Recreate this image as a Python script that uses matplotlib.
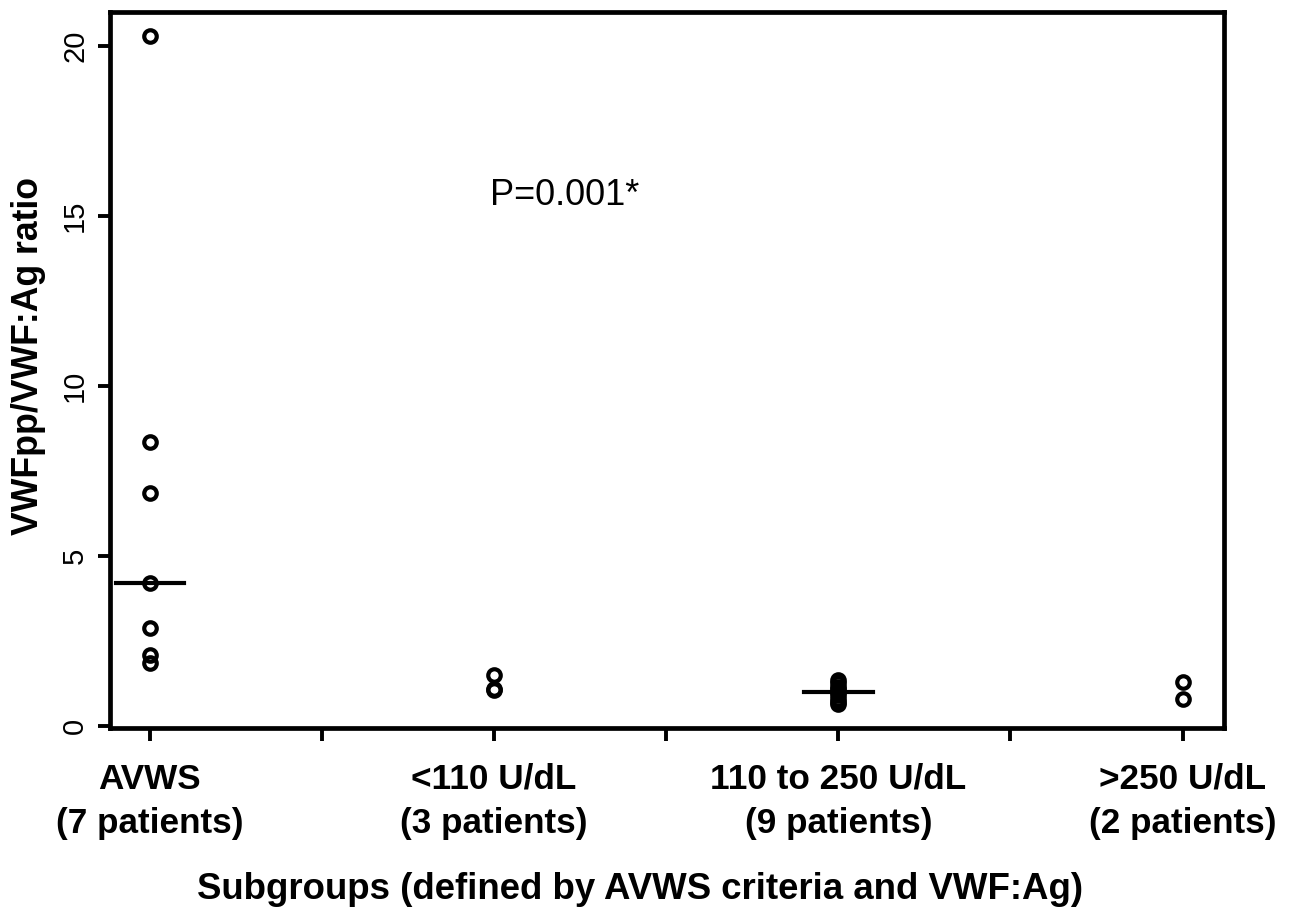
import numpy as np
import matplotlib.pyplot as plt
from matplotlib.transforms import ScaledTranslation

plt.rcParams['font.family'] = ['Liberation Sans', 'DejaVu Sans']

# values
groups = ['AVWS\n(7 patients)', '<110 U/dL\n(3 patients)',
          '110 to 250 U/dL\n(9 patients)', '>250 U/dL\n(2 patients)']
avws = [20.3, 8.35, 6.85, 4.2, 2.88, 2.09, 1.85]
low = [1.5, 1.1, 1.05]
mid = [1.35, 1.25, 1.15, 1.1, 1.0, 0.9, 0.8, 0.7, 0.65]
high = [1.3, 0.8]
values = [avws, low, mid, high]
show_median = [True, False, True, False]
p_text = 'P=0.001*'

fig = plt.figure(figsize=(12.91, 9.13), dpi=100)
ax = fig.add_axes([0.0852, 0.2026, 0.948 - 0.0852, 0.987 - 0.2026])

for i, vals in enumerate(values):
    x = np.full(len(vals), i + 1)
    ax.plot(x, vals, 'o', mfc='none', mec='black', ms=9, mew=3)
    if show_median[i]:
        m = np.median(vals)
        ax.plot([i + 1 - 0.1, i + 1 + 0.1], [m, m], color='black', lw=3)

ax.text(1.987, 15.6, p_text, fontsize=26, va='center', ha='left')

ax.set_xlim(0.884, 4.12)
ax.set_ylim(-0.06, 21.0)
ax.set_xticks([1, 2, 3, 4])
ax.set_xticklabels(groups, fontsize=25.3, fontweight='bold', linespacing=1.42)
ax.set_xticks([1.5, 2.5, 3.5], minor=True)
ax.set_yticks([0, 5, 10, 15, 20])
ax.set_yticklabels(['0', '5', '10', '15', '20'], fontsize=21, rotation=90, va='center')
# labels sit a little above their ticks in the original
shift = ScaledTranslation(0, 8 / 100, fig.dpi_scale_trans)
for lab in ax.get_yticklabels():
    lab.set_transform(lab.get_transform() + shift)

for s in ax.spines.values():
    s.set_linewidth(3.4)
ax.tick_params(axis='both', which='both', length=9, width=2.8, direction='out')
ax.tick_params(axis='x', which='major', pad=16)
ax.tick_params(axis='y', pad=6)

ax.set_ylabel('VWFpp/VWF:Ag ratio', fontsize=25.7, fontweight='bold')
ax.set_xlabel('Subgroups (defined by AVWS criteria and VWF:Ag)', fontsize=26.4,
              fontweight='bold')
ax.xaxis.set_label_coords(0.476, -0.201)
ax.yaxis.set_label_coords(-0.0575, 0.52)

fig.savefig('out.png', dpi=100)
